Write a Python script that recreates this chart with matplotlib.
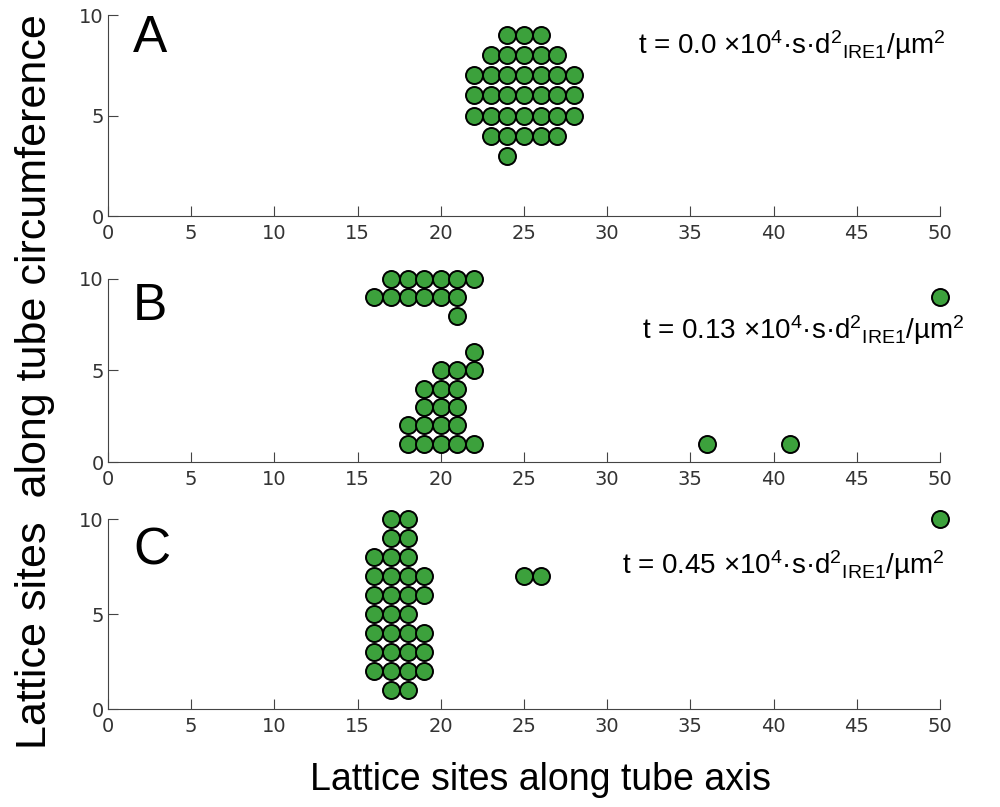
import matplotlib.pyplot as plt

plt.rcParams['mathtext.fontset'] = 'custom'
plt.rcParams['mathtext.rm'] = 'Liberation Sans'
plt.rcParams['mathtext.it'] = 'Liberation Sans:italic'

# lattice occupancy, one (x, y) list per panel
a_x = [24, 25, 26, 23, 24, 25, 26, 27, 22, 23, 24, 25, 26, 27, 28,
       22, 23, 24, 25, 26, 27, 28, 22, 23, 24, 25, 26, 27, 28,
       23, 24, 25, 26, 27, 24]
a_y = [9, 9, 9, 8, 8, 8, 8, 8, 7, 7, 7, 7, 7, 7, 7,
       6, 6, 6, 6, 6, 6, 6, 5, 5, 5, 5, 5, 5, 5,
       4, 4, 4, 4, 4, 3]

b_x = [17, 18, 19, 20, 21, 22, 16, 17, 18, 19, 20, 21, 50, 21, 22,
       20, 21, 22, 19, 20, 21, 19, 20, 21, 18, 19, 20, 21,
       18, 19, 20, 21, 22, 36, 41]
b_y = [10, 10, 10, 10, 10, 10, 9, 9, 9, 9, 9, 9, 9, 8, 6,
       5, 5, 5, 4, 4, 4, 3, 3, 3, 2, 2, 2, 2,
       1, 1, 1, 1, 1, 1, 1]

c_x = [17, 18, 50, 17, 18, 16, 17, 18, 16, 17, 18, 19, 25, 26,
       16, 17, 18, 19, 16, 17, 18, 16, 17, 18, 19, 16, 17, 18, 19,
       16, 17, 18, 19, 17, 18]
c_y = [10, 10, 10, 9, 9, 8, 8, 8, 7, 7, 7, 7, 7, 7,
       6, 6, 6, 6, 5, 5, 5, 4, 4, 4, 4, 3, 3, 3, 3,
       2, 2, 2, 2, 1, 1]

panels = ['A', 'B', 'C']
times = ['0.0', '0.13', '0.45']
xticks = list(range(0, 51, 5))
yticks = [0, 5, 10]

fig = plt.figure(figsize=(10, 8.07), dpi=100)
boxes = [[0.108, 0.7323, 0.832, 0.2491],
         [0.108, 0.4275, 0.832, 0.2268],
         [0.108, 0.1214, 0.832, 0.2354]]
data = [(a_x, a_y), (b_x, b_y), (c_x, c_y)]
letter_y = [0.816, 0.776, 0.763]
text_pos = [(1.006, 0.85), (1.03, 0.72), (1.006, 0.758)]

for box, (xs, ys), lab, ly, t, tp in zip(boxes, data, panels, letter_y, times, text_pos):
    ax = fig.add_axes(box)
    ax.scatter(xs, ys, s=150, c='#3ca13c', edgecolors='black',
               linewidths=1.4, clip_on=False, zorder=3)
    ax.set_xlim(0, 50)
    ax.set_ylim(0, 10)
    ax.set_xticks(xticks)
    ax.set_yticks(yticks)
    for s in ['top', 'right']:
        ax.spines[s].set_visible(False)
    for s in ['left', 'bottom']:
        ax.spines[s].set_color('#444444')
    ax.tick_params(direction='in', length=7, color='#444444',
                   labelsize=14, labelcolor='#333333')
    ax.tick_params(axis='x', pad=6)
    ax.tick_params(axis='y', pad=3)
    ax.text(0.030, ly, lab, transform=ax.transAxes, fontsize=37,
            family='Liberation Sans', va='baseline', ha='left')
    ax.text(tp[0], tp[1], 't = ' + t + r' ×10$^4$·s·d$^2{}_{\mathrm{IRE1}}$/µm$^2$',
            transform=ax.transAxes, fontsize=20, family='Liberation Sans',
            ha='right', va='center')

fig.text(0.541, 0.033, 'Lattice sites along tube axis', fontsize=27,
         family='Liberation Sans', ha='center', va='center')
fig.text(0.035, 0.527, 'Lattice sites  along tube circumference', fontsize=31,
         family='Liberation Sans', ha='center', va='center', rotation=90)

fig.savefig('out.png', dpi=100)
